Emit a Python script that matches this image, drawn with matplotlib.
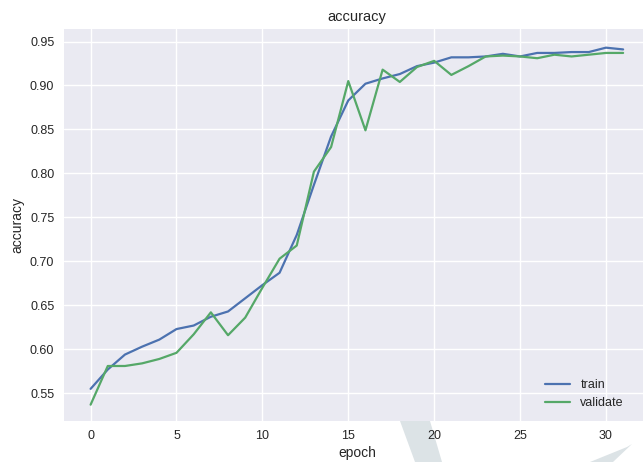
import matplotlib
matplotlib.use('Agg')
import matplotlib.pyplot as plt
from matplotlib.patches import Polygon

# accuracy per epoch
epochs = list(range(32))
train_acc = [0.555, 0.577, 0.594, 0.603, 0.611, 0.623, 0.627, 0.637, 0.643, 0.658,
             0.673, 0.687, 0.730, 0.787, 0.842, 0.883, 0.902, 0.908, 0.913, 0.922,
             0.926, 0.932, 0.932, 0.933, 0.936, 0.933, 0.937, 0.937, 0.938, 0.938,
             0.943, 0.941]
val_acc = [0.537, 0.581, 0.581, 0.584, 0.589, 0.596, 0.617, 0.642, 0.616, 0.636,
           0.670, 0.703, 0.718, 0.802, 0.830, 0.905, 0.849, 0.918, 0.904, 0.921,
           0.928, 0.912, 0.922, 0.933, 0.934, 0.933, 0.931, 0.935, 0.933, 0.935,
           0.937, 0.937]

plt.style.use('seaborn-v0_8')
plt.rcParams['font.family'] = ['Liberation Sans', 'DejaVu Sans']
plt.rcParams['xtick.labelsize'] = 9
plt.rcParams['ytick.labelsize'] = 9

fig = plt.figure(figsize=(6.43, 4.62), dpi=100)
ax = fig.add_axes([0.0995, 0.0898, 0.911, 0.847])

ax.plot(epochs, train_acc, color='#4C72B0', lw=1.6, label='train')
ax.plot(epochs, val_acc, color='#55A868', lw=1.6, label='validate')

ax.set_title('accuracy', fontsize=10.5, color='#262626')
ax.set_xlabel('epoch', fontsize=10, color='#262626', labelpad=3)
ax.set_ylabel('accuracy', fontsize=10, color='#262626', labelpad=4)
ax.set_yticks([0.55, 0.60, 0.65, 0.70, 0.75, 0.80, 0.85, 0.90, 0.95])
ax.set_ylim(0.519, 0.964)
ax.legend(loc='lower right', fontsize=9, bbox_to_anchor=(0.975, 0.0))

# faint watermark strokes below the plot (behind the axes)
W, H = 643, 462
marks = [
    [(400, 421), (430, 421), (442, 462), (415, 462)],
    [(627, 447), (632, 444), (613, 462), (590, 462)],
]
for pts in marks:
    fig.patches.append(Polygon([(x / W, 1 - y / H) for x, y in pts], closed=True,
                               transform=fig.transFigure, facecolor='#dce3e6',
                               edgecolor='none', zorder=-1))

fig.savefig('out.png', dpi=100, facecolor='white')
